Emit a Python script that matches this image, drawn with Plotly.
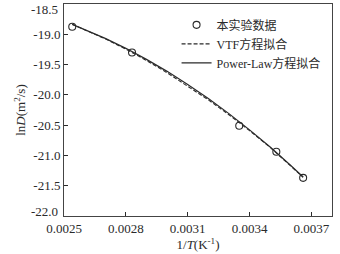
import plotly.graph_objects as go

# Experimental data (1/T, lnD)
exp_x = [0.00254, 0.00283, 0.00335, 0.00353, 0.00366]
exp_y = [-18.875, -19.30, -20.51, -20.94, -21.37]

# Fitted curves
fit_x = [0.00254, 0.0026, 0.0027, 0.0028, 0.0029, 0.0030, 0.0031,
         0.0032, 0.0033, 0.0034, 0.0035, 0.0036, 0.00366]
vtf_y = [-18.836, -18.922, -19.075, -19.245, -19.432, -19.635, -19.852,
         -20.082, -20.328, -20.590, -20.868, -21.168, -21.360]
pl_y = [-18.836, -18.919, -19.068, -19.232, -19.414, -19.612, -19.828,
        -20.060, -20.310, -20.578, -20.862, -21.166, -21.357]

x_ticks = [0.0025, 0.0028, 0.0031, 0.0034, 0.0037]
x_ticktext = ["0.0025", "0.0028", "0.0031", "0.0034", "0.0037"]
y_ticks = [-19.0, -19.5, -20.0, -20.5, -21.0, -21.5]
y_ticktext = ["-19.0", "-19.5", "-20.0", "-20.5", "-21.0", "-21.5"]
y_end_ticks = [-18.5, -22.0]
y_end_text = ["-18.5", "-22.0"]

FONT = "Liberation Serif, Times New Roman, Noto Sans CJK SC, serif"
INK = "#2a2a2a"

fig = go.Figure()
fig.add_trace(go.Scatter(
    x=exp_x, y=exp_y, mode="markers", name="本实验数据",
    marker=dict(symbol="circle-open", size=7, color=INK, line=dict(width=1.1, color=INK)),
))
fig.add_trace(go.Scatter(
    x=fit_x, y=vtf_y, mode="lines", name="VTF方程拟合",
    line=dict(color=INK, width=1.1, dash="4px,2px"),
))
fig.add_trace(go.Scatter(
    x=fit_x, y=pl_y, mode="lines", name="Power-Law方程拟合",
    line=dict(color=INK, width=1.2),
))

annotations = []
for v, t in zip(y_end_ticks, y_end_text):
    annotations.append(dict(
        x=0, xref="paper", y=v, yref="y", text=t, showarrow=False,
        xanchor="right", yanchor="middle", xshift=-4,
        yshift=-5.5 if v > -20 else 4.5,
        font=dict(family=FONT, size=13, color=INK),
    ))

fig.update_layout(
    width=340, height=254,
    margin=dict(l=64, r=8, t=4, b=38),
    paper_bgcolor="white", plot_bgcolor="white",
    font=dict(family=FONT, size=13, color=INK),
    showlegend=True,
    legend=dict(
        x=0.42, y=0.97, xanchor="left", yanchor="top",
        bgcolor="rgba(0,0,0,0)", borderwidth=0,
        font=dict(family=FONT, size=12, color=INK),
        itemwidth=30, tracegroupgap=0,
    ),
    xaxis=dict(
        range=[0.0025, 0.0038], tickvals=x_ticks, ticktext=x_ticktext,
        ticks="inside", ticklen=4, tickcolor=INK,
        showline=True, linecolor="#444", linewidth=1, mirror=True,
        showgrid=False, zeroline=False,
        title=dict(text="1/<i>T</i>(K<sup>-1</sup>)", standoff=2,
                   font=dict(family=FONT, size=13, color=INK)),
    ),
    yaxis=dict(
        range=[-22.0, -18.5], tickvals=y_ticks, ticktext=y_ticktext,
        ticks="inside", ticklen=4, tickcolor=INK,
        showline=True, linecolor="#444", linewidth=1, mirror=True,
        showgrid=False, zeroline=False,
        title=dict(text="ln<i>D</i>(m<sup>2</sup>/s)", standoff=4,
                   font=dict(family=FONT, size=13, color=INK)),
    ),
    annotations=annotations,
)

fig.write_html(
    "out.html",
    config={"displayModeBar": False},
    post_script="document.body.style.margin='0px';document.body.style.overflow='hidden';",
)
